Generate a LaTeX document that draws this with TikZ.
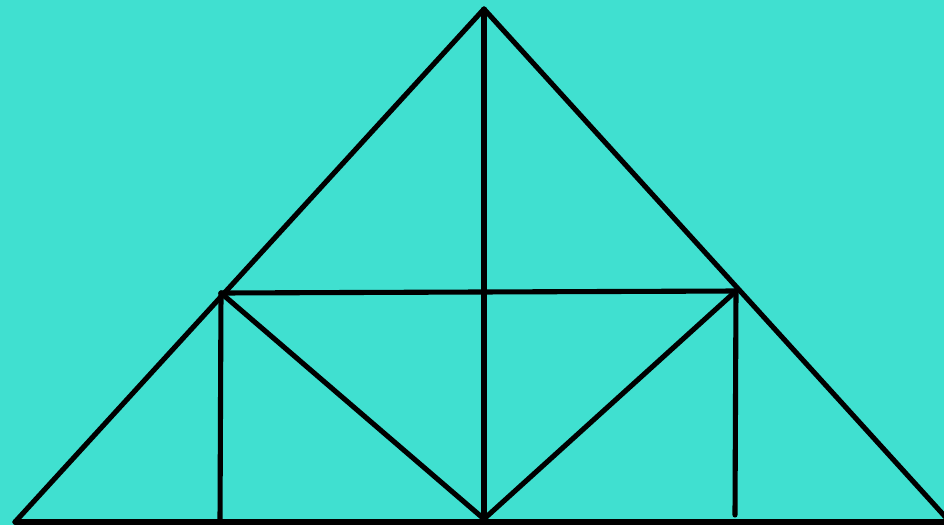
\documentclass[tikz,border=0pt]{standalone}
\definecolor{turq}{RGB}{64,224,208}
\begin{document}
\begin{tikzpicture}[
x=0.02cm,
y=-0.02cm,
member/.style={
draw=black,
line width=2.9pt,
line cap=round,
line join=round
}
]

\fill[turq] (0,0) rectangle (944,525);
\useasboundingbox (0,0) rectangle (944,525);

\coordinate (apex) at (484,9);
\coordinate (leftbase) at (15,522);
\coordinate (rightbase) at (950,522);
\coordinate (midbase) at (484,519);
\coordinate (leftjoint) at (221,293);
\coordinate (rightjoint) at (736,291);
\coordinate (leftfoot) at (220,522);
\coordinate (rightfoot) at (735,515);

\draw[member] (leftbase) -- (rightbase);
\draw[member] (leftbase) -- (apex) -- (rightbase);
\draw[member] (apex) -- (midbase);
\draw[member] (leftjoint) -- (rightjoint);
\draw[member] (leftjoint) -- (leftfoot);
\draw[member] (rightjoint) -- (rightfoot);
\draw[member] (leftjoint) -- (midbase) -- (rightjoint);

\end{tikzpicture}
\end{document}
